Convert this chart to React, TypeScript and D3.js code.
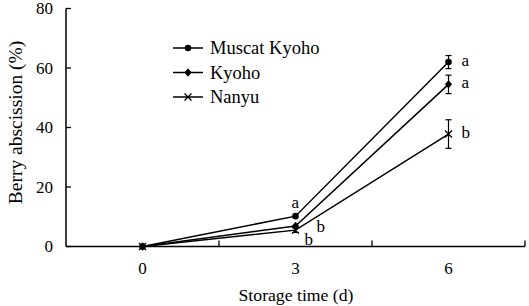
import React from "react";
import * as d3 from "d3";

const categories = ["0", "3", "6"];
const seriesNames = ["Muscat Kyoho", "Kyoho", "Nanyu"];
const muscatValues = [0, 10.2, 62];
const kyohoValues = [0, 6.9, 54.5];
const nanyuValues = [0, 5.5, 37.8];
const muscatErr = [0, 0, 2.2];
const kyohoErr = [0, 0, 3.1];
const nanyuErr = [0, 0.8, 4.8];
const yTicks = [0, 20, 40, 60, 80];
const letterLabels = [
  { series: 0, cat: 1, text: "a", pos: "above" },
  { series: 1, cat: 1, text: "b", pos: "right" },
  { series: 2, cat: 1, text: "b", pos: "below" },
  { series: 0, cat: 2, text: "a", pos: "right" },
  { series: 1, cat: 2, text: "a", pos: "right" },
  { series: 2, cat: 2, text: "b", pos: "right" },
];

const W = 529;
const H = 306;
const FONT = '"Times New Roman", "Liberation Serif", Tinos, "DejaVu Serif", serif';
const ts = (size: number) => ({ fontFamily: FONT, fontSize: size + "px" });

function Marker({ kind, x, y }: { kind: number; x: number; y: number }) {
  if (kind === 0) return <circle cx={x} cy={y} r={3.3} fill="#000" />;
  if (kind === 1)
    return (
      <path
        d={`M${x},${y - 4.2}L${x + 3.6},${y}L${x},${y + 4.2}L${x - 3.6},${y}Z`}
        fill="#000"
      />
    );
  return (
    <path
      d={`M${x - 3.5},${y - 3.5}L${x + 3.5},${y + 3.5}M${x - 3.5},${y + 3.5}L${x + 3.5},${y - 3.5}`}
      stroke="#000"
      strokeWidth={1.3}
    />
  );
}

export default function App() {
  const left = 66;
  const right = 525;
  const top = 8.5;
  const bottom = 246.5;
  const x = d3.scaleBand<string>().domain(categories).range([left, right]);
  const y = d3.scaleLinear().domain([0, 80]).range([bottom, top]);
  const cx = (c: string) => (x(c) as number) + x.bandwidth() / 2;
  const data = [muscatValues, kyohoValues, nanyuValues];
  const errs = [muscatErr, kyohoErr, nanyuErr];
  const line = d3
    .line<number>()
    .x((_, i) => cx(categories[i]))
    .y((d) => y(d));
  const boundaries = [...categories.map((c) => (x(c) as number)), right].slice(1);

  return (
    <svg
      width={W}
      height={H}
      style={{ position: "absolute", left: 0, top: 0, background: "#fff" }}
    >
      <rect width={W} height={H} fill="#fff" />
      {/* y axis */}
      <line x1={left} x2={left} y1={top} y2={bottom} stroke="#000" strokeWidth={1.5} />
      {yTicks.map((t) => (
        <g key={t}>
          <line x1={left} x2={left + 5} y1={y(t)} y2={y(t)} stroke="#000" strokeWidth={1.3} />
          <text x={53} y={y(t)} dy="0.35em" textAnchor="end" style={ts(17)}>
            {t}
          </text>
        </g>
      ))}
      {/* x axis */}
      <line x1={left} x2={right} y1={bottom} y2={bottom} stroke="#000" strokeWidth={1.5} />
      {boundaries.map((b, i) => (
        <line key={i} x1={b} x2={b} y1={bottom} y2={bottom - 6} stroke="#000" strokeWidth={1.3} />
      ))}
      {categories.map((c) => (
        <text key={c} x={cx(c)} y={274} textAnchor="middle" style={ts(17)}>
          {c}
        </text>
      ))}
      <text x={296} y={301} textAnchor="middle" style={ts(17.7)}>
        Storage time (d)
      </text>
      <text
        transform={`translate(22,122.5) rotate(-90)`}
        textAnchor="middle"
        style={ts(19.5)}
      >
        Berry abscission (%)
      </text>
      {/* lines */}
      {data.map((vals, si) => (
        <path key={si} d={line(vals) || ""} fill="none" stroke="#000" strokeWidth={1.5} />
      ))}
      {/* error bars */}
      {errs.map((ev, si) =>
        ev.map((e, ci) =>
          e > 0 ? (
            <g key={`${si}-${ci}`} stroke="#000" strokeWidth={1.2}>
              <line
                x1={cx(categories[ci])}
                x2={cx(categories[ci])}
                y1={y(data[si][ci] + e)}
                y2={y(data[si][ci] - e)}
              />
              <line
                x1={cx(categories[ci]) - 3}
                x2={cx(categories[ci]) + 3}
                y1={y(data[si][ci] + e)}
                y2={y(data[si][ci] + e)}
              />
              <line
                x1={cx(categories[ci]) - 3}
                x2={cx(categories[ci]) + 3}
                y1={y(data[si][ci] - e)}
                y2={y(data[si][ci] - e)}
              />
            </g>
          ) : null
        )
      )}
      {/* markers */}
      {data.map((vals, si) =>
        vals.map((v, ci) => <Marker key={`${si}-${ci}`} kind={si} x={cx(categories[ci])} y={y(v)} />)
      )}
      {/* significance letters */}
      {letterLabels.map((l, i) => {
        const px = cx(categories[l.cat]);
        const py = y(data[l.series][l.cat]);
        let tx = px + 12;
        let ty = py + 4;
        if (l.pos === "above") {
          tx = px - 4;
          ty = py - 8;
        } else if (l.pos === "right") {
          tx = l.cat === 1 ? px + 21 : px + 13;
          ty = l.cat === 1 ? py + 6 : py + 4;
        } else if (l.pos === "below") {
          tx = px + 9;
          ty = py + 15;
        }
        return (
          <text key={i} x={tx} y={ty} textAnchor="start" style={ts(17)}>
            {l.text}
          </text>
        );
      })}
      {/* legend */}
      {seriesNames.map((n, i) => {
        const ly = 48 + i * 24.5;
        return (
          <g key={n}>
            <line x1={173} x2={203} y1={ly} y2={ly} stroke="#000" strokeWidth={1.5} />
            <Marker kind={i} x={188} y={ly} />
            <text x={210} y={ly} dy="0.35em" style={ts(18.5)}>
              {n}
            </text>
          </g>
        );
      })}
    </svg>
  );
}
